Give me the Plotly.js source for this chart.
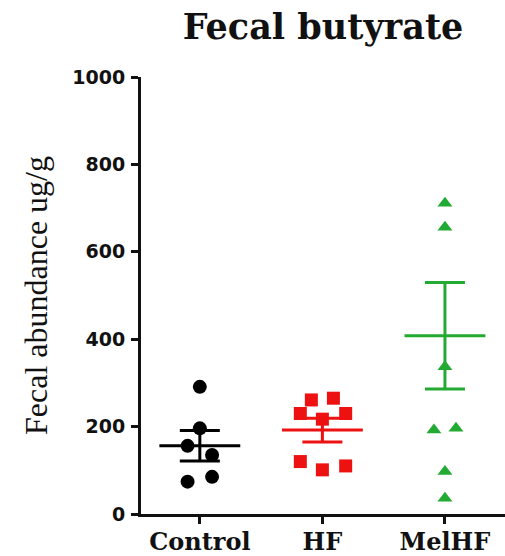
<!DOCTYPE html>
<html>
<head>
<meta charset="utf-8">
<script src="https://cdn.plot.ly/plotly-3.0.1.min.js"></script>
<style>html,body{margin:0;padding:0;background:#fff;}#chart{width:505px;height:556px;}</style>
</head>
<body>
<div id="chart"></div>
<script>
// Categories
var groups = ['Control', 'HF', 'MelHF'];
// Individual values (ug/g)
var controlValues = [291, 196, 156, 135, 74, 85];
var hfValues = [261, 265, 230, 230, 217, 120, 101, 110];
var melhfValues = [711, 656, 337, 192, 196, 97, 36];
// Horizontal scatter offsets (category units)
var controlOffsets = [0, 0, -0.1, 0.1, -0.1, 0.1];
var hfOffsets = [-0.09, 0.09, -0.18, 0.19, 0, -0.18, 0, 0.19];
var melhfOffsets = [0, 0, 0, -0.09, 0.09, 0, 0];
// Group mean and SEM
var means = [156, 192, 408];
var sems = [35, 27, 122];
var yTicks = [0, 200, 400, 600, 800, 1000];

var colors = ['#000000', '#ee1111', '#22aa33'];
var symbols = ['circle', 'square', 'triangle-up'];
var sizes = [14, 13, 13];
var allValues = [controlValues, hfValues, melhfValues];
var allOffsets = [controlOffsets, hfOffsets, melhfOffsets];

var traces = [];
allValues.forEach(function (vals, g) {
  traces.push({
    type: 'scatter', mode: 'markers',
    x: vals.map(function (v, i) { return g + allOffsets[g][i]; }),
    y: vals,
    marker: {symbol: symbols[g], size: sizes[g], color: colors[g], line: {width: 0}},
    hoverinfo: 'y', showlegend: false
  });
});
groups.forEach(function (name, g) {
  traces.push({
    type: 'scatter', mode: 'lines',
    x: [g - 0.33, g + 0.33], y: [means[g], means[g]],
    line: {color: colors[g], width: 3},
    hoverinfo: 'skip', showlegend: false
  });
  traces.push({
    type: 'scatter', mode: 'markers',
    x: [g], y: [means[g]],
    marker: {size: 1, color: 'rgba(0,0,0,0)'},
    error_y: {type: 'data', array: [sems[g]], visible: true, color: colors[g], thickness: 3, width: 20},
    hoverinfo: 'skip', showlegend: false
  });
});

var layout = {
  width: 505, height: 556,
  margin: {l: 141, r: 0, t: 77, b: 42},
  paper_bgcolor: '#ffffff', plot_bgcolor: '#ffffff',
  title: {
    text: 'Fecal butyrate',
    font: {family: 'DejaVu Serif', size: 35, color: '#111', weight: 'bold'},
    x: 0.5, xref: 'paper', y: 0.951, yref: 'container', yanchor: 'middle'
  },
  xaxis: {
    range: [-0.48, 2.49],
    tickmode: 'array', tickvals: [0, 1, 2], ticktext: groups,
    showgrid: false, zeroline: false,
    showline: true, linecolor: '#111', linewidth: 3,
    ticks: 'outside', ticklen: 7, tickwidth: 3, tickcolor: '#111',
    ticklabelstandoff: -3,
    tickfont: {family: 'DejaVu Serif', size: 24, color: '#111', weight: 'bold'},
    fixedrange: true
  },
  yaxis: {
    range: [0, 1000],
    tickmode: 'array', tickvals: yTicks, ticktext: yTicks.map(String),
    showgrid: false, zeroline: false,
    showline: true, linecolor: '#111', linewidth: 3,
    ticks: 'outside', ticklen: 7, tickwidth: 3, tickcolor: '#111',
    ticklabelstandoff: 2,
    tickfont: {family: 'DejaVu Sans', size: 19, color: '#111', weight: 'bold'},
    title: {text: 'Fecal abundance ug/g', font: {family: 'Liberation Serif', size: 32, color: '#111'}, standoff: 16},
    fixedrange: true
  }
};

Plotly.newPlot('chart', traces, layout, {displayModeBar: false, staticPlot: true});
</script>
</body>
</html>
